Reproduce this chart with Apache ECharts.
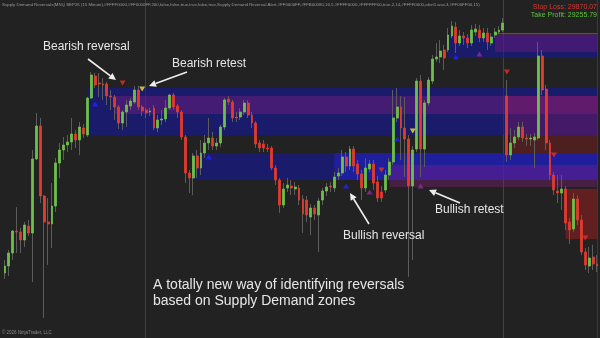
<!DOCTYPE html>
<html><head><meta charset="utf-8">
<script src="https://cdn.jsdelivr.net/npm/echarts@6/dist/echarts.min.js"></script>
<style>html,body{margin:0;padding:0;background:#222222;}#c{width:600px;height:338px;}</style>
</head><body><div id="c"></div>
<script>
// 15-minute bars, MNQ SEP26
const open = [
29704,29718,29744,29788,29786,29770,29798,29784,29932,29998,
29858,29806,29802,29838,29924,29950,29960,29966,29982,29970,
29994,29980,30054,30098,30084,30082,30082,30058,30056,30036,
30004,30026,30038,30046,30070,30036,30030,30026,30034,29994,
30010,30012,30034,30060,30038,30026,29976,29904,29894,29938,
29914,29944,29964,29974,29958,29964,29996,30052,30046,30016,
30016,30026,30044,30020,30004,29964,29962,29954,29954,29914,
29890,29840,29874,29878,29872,29874,29852,29850,29816,29834,
29820,29850,29868,29878,29874,29898,29904,29936,29918,29952,
29922,29902,29874,29912,29922,29886,29866,29870,29900,29926,
30014,30036,29994,29972,29878,29952,30088,29952,30044,30088,
30132,30136,30150,30150,30178,30196,30164,30178,30174,30164,
30186,30190,30174,30184,30164,30180,30186,30190,30058,29940,
29964,29976,29996,29974,29972,29970,29974,30138,30072,29964,
29900,29868,29864,29872,29806,29792,29852,29810,29746,29718,
29736,29722];
const close = [
29718,29744,29788,29786,29770,29800,29784,29932,29998,29858,
29806,29802,29838,29924,29950,29960,29966,29982,29970,29996,
29982,30054,30100,30080,30082,30080,30058,30056,30036,30004,
30026,30040,30048,30070,30036,30028,30024,30028,29994,30010,
30012,30034,30060,30036,30026,29976,29904,29894,29938,29914,
29944,29964,29974,29958,29964,29996,30050,30046,30014,30014,
30026,30044,30020,30004,29962,29954,29954,29952,29914,29890,
29840,29872,29880,29874,29876,29850,29822,29820,29834,29822,
29848,29868,29876,29876,29896,29904,29936,29918,29952,29918,
29902,29874,29914,29922,29884,29854,29854,29900,29926,30014,
30036,29994,29972,29878,29950,30088,29952,30044,30090,30132,
30136,30148,30134,30180,30198,30164,30178,30174,30164,30190,
30192,30174,30184,30166,30176,30186,30190,30204,29940,29964,
29976,29996,29974,29972,29974,29976,30138,30070,29964,29900,
29870,29864,29872,29804,29790,29852,29810,29746,29720,29734,
29722,29718];
const low = [
29692,29698,29730,29744,29744,29756,29778,29686,29930,29844,
29614,29720,29754,29826,29894,29930,29946,29950,29954,29940,
29974,29976,30052,30074,30056,30050,30040,30030,30010,29992,
29990,29996,30030,30042,30030,30018,30014,30018,29990,29986,
30000,30006,30030,30030,30014,29970,29884,29864,29860,29894,
29900,29934,29950,29950,29950,29956,29990,30040,30006,30006,
30010,30020,30014,29994,29954,29946,29946,29946,29910,29880,
29824,29834,29866,29860,29860,29840,29784,29806,29780,29810,
29746,29840,29858,29866,29866,29890,29898,29906,29910,29906,
29890,29850,29866,29906,29870,29846,29846,29864,29890,29920,
30006,29930,29896,29696,29730,29946,29896,29916,30038,30082,
30126,30124,30110,30146,30174,30144,30158,30160,30154,30158,
30178,30166,30166,30150,30158,30174,30182,30186,29926,29930,
29954,29970,29966,29958,29958,29914,29970,30060,29950,29890,
29860,29844,29830,29790,29762,29786,29800,29740,29710,29704,
29710,29706];
const high = [
29730,29750,29790,29836,29794,29806,29810,29950,30024,30014,
29860,29854,29884,29934,29964,29976,29980,30014,29990,30006,
30002,30056,30106,30104,30104,30094,30086,30070,30060,30040,
30030,30050,30054,30078,30078,30040,30034,30034,30040,30020,
30030,30050,30062,30064,30042,30030,29980,29910,29944,29950,
29970,29980,30014,29986,29974,30000,30054,30058,30050,30026,
30034,30050,30050,30026,30008,29970,29970,29962,29958,29920,
29894,29884,29894,29890,29886,29880,29860,29858,29842,29840,
29854,29874,29884,29886,29906,29914,29950,29946,29958,29958,
29930,29910,29934,29930,29930,29898,29878,29910,29934,30070,
30074,30058,30056,29980,29958,30094,30100,30050,30096,30140,
30164,30170,30160,30194,30208,30206,30190,30186,30182,30200,
30202,30200,30194,30194,30184,30194,30198,30214,30090,29994,
29990,30006,30006,29982,29982,29984,30166,30150,30080,29970,
29906,29900,29900,29878,29814,29864,29860,29820,29754,29756,
29760,29740];
const categories = open.map((_, i) => 'Bar ' + (i + 1));

// signal markers: bar index and price
const bullishReversalBars = [23, 52, 87, 100, 115];
const bullishReversalPrices = [30042, 29936, 29878, 29972, 30136];
const bullishRetestBars = [93, 106, 121];
const bullishRetestPrices = [29866, 29878, 30142];
const bearishReversalBars = [30, 96, 128, 140, 148];
const bearishReversalPrices = [30084, 29910, 30106, 29940, 29774];
const bearishRetestBars = [35, 104];
const bearishRetestPrices = [30072, 29988];

// supply / demand zones: start bar, top price, bottom price, kind
const zoneStart = [21, 48, 113, 28, 84, 98, 125, 128, 129, 143, 125];
const zoneTop = [30074, 29944, 30180, 30058, 29944, 29920, 30184, 30058, 29980, 29872, 30184];
const zoneBottom = [29980, 29890, 30134, 30022, 29890, 29876, 30146, 29980, 29944, 29772, 30182];
const zoneKind = ['zone','zone','zone','core','active','retest','retest','hit','risk','stop','edge'];

const stopLoss = '29870.07';
const takeProfit = '29255.79';

const zoneColors = {
  zone: 'rgba(22,22,170,0.55)', core: 'rgba(140,30,130,0.36)', active: 'rgba(40,40,255,0.33)',
  retest: 'rgba(140,30,130,0.34)', hit: 'rgba(170,25,90,0.28)', risk: 'rgba(150,25,25,0.38)',
  stop: 'rgba(160,28,28,0.5)', edge: 'rgba(220,40,40,0.8)'
};
const last = categories.length - 1;
const areas = zoneStart.map((s, k) => [
  {xAxis: s, yAxis: zoneTop[k], itemStyle: {color: zoneColors[zoneKind[k]]}},
  {xAxis: last, yAxis: zoneBottom[k]}
]);

const wickData = open.map((o, i) => [o, close[i], low[i], high[i]]);
const bodyData = open.map((o, i) => [o, close[i], Math.min(o, close[i]), Math.max(o, close[i])]);
const pts = (bars, prices) => bars.map((b, i) => [b, prices[i]]);

const FONT = 'Liberation Sans, Arial, sans-serif';
const chart = echarts.init(document.getElementById('c'), null, {renderer: 'canvas'});
const GREEN = '#6cc04a', RED = '#e23b2e', WICK = '#5c5c5c';

chart.setOption({
  backgroundColor: '#222222',
  animation: false,
  grid: {left: 3, right: 1, top: 0, bottom: 0},
  xAxis: {type: 'category', data: categories, show: false, boundaryGap: true},
  yAxis: {type: 'value', min: 29574, max: 30250, show: false, splitLine: {show: false}},
  series: [
    {
      type: 'candlestick', name: 'wicks', data: wickData, barWidth: 1, z: 3,
      itemStyle: {color: WICK, color0: WICK, borderColor: WICK, borderColor0: WICK, borderWidth: 1},
      markArea: {silent: true, z: 1, data: areas}
    },
    {
      type: 'candlestick', name: 'bodies', data: bodyData, barWidth: 2.4, z: 5,
      itemStyle: {color: GREEN, color0: RED, borderColor: GREEN, borderColor0: RED, borderWidth: 0.8}
    },
    {type: 'scatter', z: 6, symbol: 'triangle', symbolSize: [6, 5], data: pts(bullishReversalBars, bullishReversalPrices), itemStyle: {color: '#2024ff'}},
    {type: 'scatter', z: 6, symbol: 'triangle', symbolSize: [6, 5], data: pts(bullishRetestBars, bullishRetestPrices), itemStyle: {color: '#8e2c9e'}},
    {type: 'scatter', z: 6, symbol: 'triangle', symbolRotate: 180, symbolSize: [6, 5], data: pts(bearishReversalBars, bearishReversalPrices), itemStyle: {color: '#e2302a'}},
    {type: 'scatter', z: 6, symbol: 'triangle', symbolRotate: 180, symbolSize: [6, 5], data: pts(bearishRetestBars, bearishRetestPrices), itemStyle: {color: '#f2e03a'}}
  ]
});

// session separators between bars
function between(a) {
  const p1 = chart.convertToPixel({xAxisIndex: 0}, Math.floor(a));
  const p2 = chart.convertToPixel({xAxisIndex: 0}, Math.floor(a) + 1);
  return p1 + (p2 - p1) * (a - Math.floor(a));
}
const sessionBreaks = [35.8, 127.1];

function arrow(x1, y1, x2, y2) {
  const a = Math.atan2(y2 - y1, x2 - x1), L = 7, W = 3.5;
  const bx = x2 - L * Math.cos(a), by = y2 - L * Math.sin(a);
  const px = -Math.sin(a) * W, py = Math.cos(a) * W;
  return [
    {type: 'line', z: 20, shape: {x1: x1, y1: y1, x2: bx, y2: by}, style: {stroke: '#eeeeee', lineWidth: 1.6}},
    {type: 'polygon', z: 20, shape: {points: [[x2, y2], [bx + px, by + py], [bx - px, by - py]]}, style: {fill: '#eeeeee'}}
  ];
}
function label(text, x, y, size) {
  return {type: 'text', z: 20, x: x, y: y, style: {text: text, fill: '#e6e6e6', font: size + 'px ' + FONT, textVerticalAlign: 'middle'}};
}

const g = [];
sessionBreaks.forEach(b => {
  const x = Math.round(between(b)) + 0.5;
  g.push({type: 'line', z: 0, shape: {x1: x, y1: 0, x2: x, y2: 338}, style: {stroke: '#424242', lineWidth: 1}});
});
g.push({type: 'line', z: 0, shape: {x1: 597.5, y1: 0, x2: 597.5, y2: 338}, style: {stroke: '#3a3a3a', lineWidth: 1}});
g.push({type: 'text', z: 20, x: 2, y: 3, style: {text: 'Supply Demand Reversals(MNQ SEP26 (15 Minute),#FFFF0000,#FF0000FF,200,false,false,true,true,false,true,Supply Demand Reversal Alert,#FF0000FF,#FFB00080,16,5,#FFFF0000,#FFFFFF00,true,2,14,#FFFF0000,alert1.wav,3,#FF00FF00,15)', fill: '#9a9a9a', font: '4.35px ' + FONT}});
g.push({type: 'text', z: 20, x: 597, y: 7.5, style: {text: 'Stop Loss: ' + stopLoss, fill: '#d8372f', font: '7px ' + FONT, textAlign: 'right', textVerticalAlign: 'middle'}});
g.push({type: 'text', z: 20, x: 597, y: 15, style: {text: 'Take Profit: ' + takeProfit, fill: '#5fc23c', font: '7px ' + FONT, textAlign: 'right', textVerticalAlign: 'middle'}});
g.push({type: 'text', z: 20, x: 2, y: 333, style: {text: '\u00a9 2026 NinjaTrader, LLC', fill: '#8a8a8a', font: '4.5px ' + FONT, textVerticalAlign: 'middle'}});
g.push(label('Bearish reversal', 43, 47, 12));
g.push(label('Bearish retest', 172, 64, 12));
g.push(label('Bullish reversal', 343, 236, 12));
g.push(label('Bullish retest', 435, 210, 12));
g.push(label('A totally new way of identifying reversals', 153, 285, 14));
g.push(label('based on Supply Demand zones', 153, 301, 14));
g.push(...arrow(88, 59, 116, 80));
g.push(...arrow(187, 72, 149, 86));
g.push(...arrow(369, 224, 350, 193));
g.push(...arrow(460, 203, 429, 190));
chart.setOption({graphic: {elements: g}});
</script>
</body></html>
